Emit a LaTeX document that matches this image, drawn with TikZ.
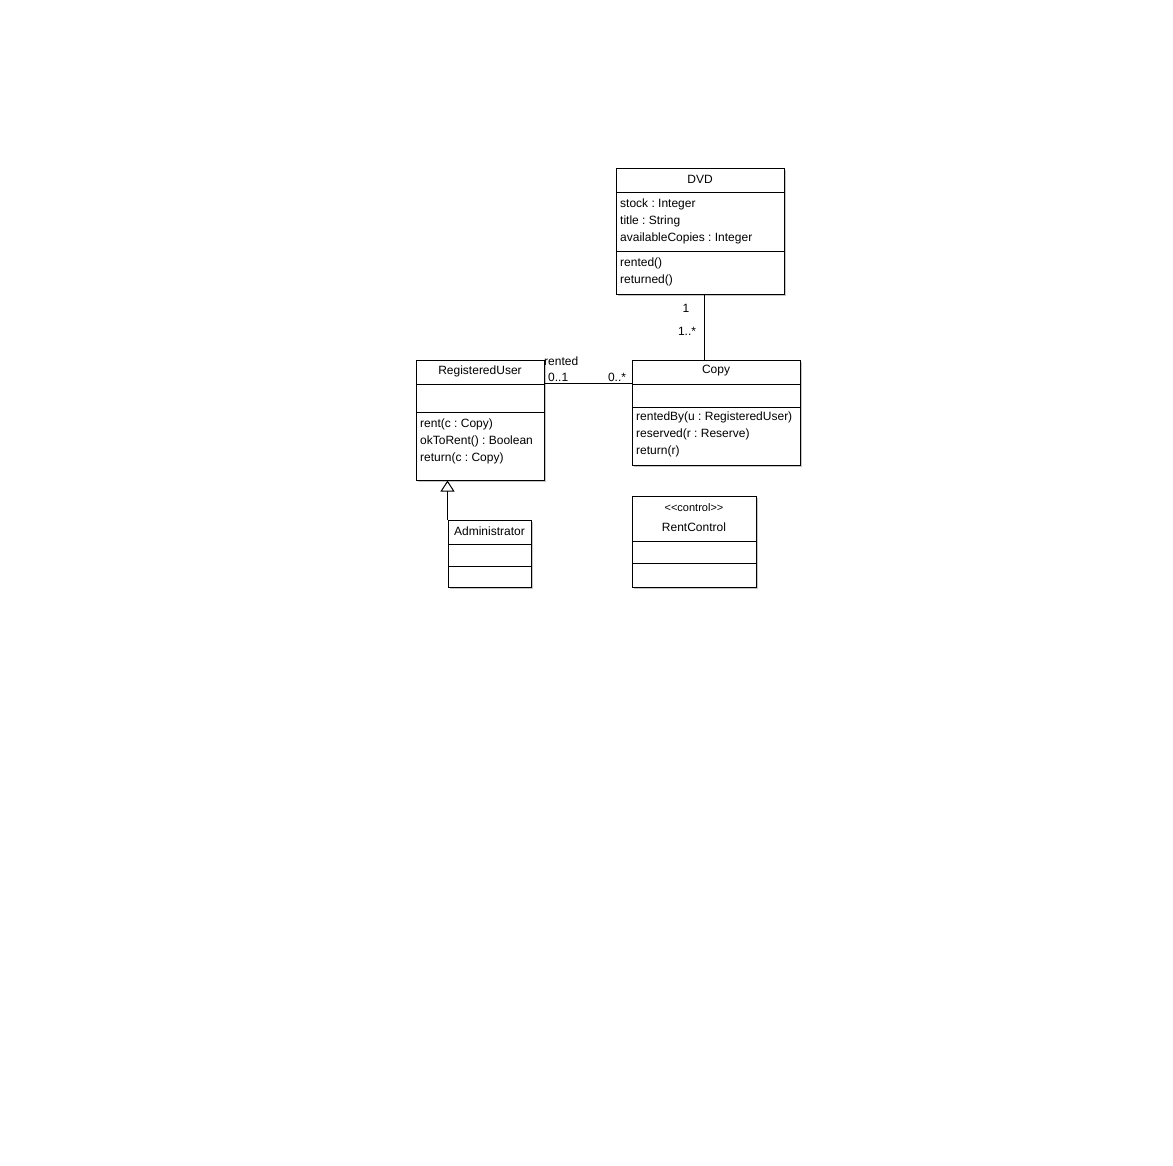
\documentclass[tikz,border=0pt]{standalone}
\usepackage{fontspec}
\setmainfont{Liberation Sans}
\frenchspacing
\usetikzlibrary{arrows.meta,calc}
\tikzset{
  x=1pt, y=-1pt,
  cls/.style={draw=black, line width=1pt, fill=white, inner sep=0pt, rectangle},
  shadowbox/.style={fill=black!22, draw=none},
  sep/.style={line width=1pt},
  ttl/.style={font=\fontsize{12}{14}\selectfont, inner sep=0pt, anchor=center},
  mem/.style={font=\fontsize{12}{14}\selectfont, inner sep=0pt, anchor=west},
  stereo/.style={font=\fontsize{11}{13}\selectfont, inner sep=0pt, anchor=center},
  lbl/.style={font=\fontsize{12}{14}\selectfont, inner sep=0pt},
  assoc/.style={line width=1pt},
  gen/.style={line width=1pt, -{Triangle[open, length=11pt, width=14pt, line width=1pt]}}
}
\begin{document}
\frenchspacing
\begin{tikzpicture}
\useasboundingbox[fill=white] (0,0) rectangle (1173,1165);
% shadows
\fill[shadowbox] (618,170) rectangle (786,296);
\fill[shadowbox] (634,362) rectangle (802,467);
\fill[shadowbox] (418,362) rectangle (546,482);
\fill[shadowbox] (450,522) rectangle (533,589);
\fill[shadowbox] (634,498) rectangle (758,589);
% DVD
\node[cls, minimum width=168pt, minimum height=126pt] (dvd) at (700,231) {};
\draw[sep] (616,192) -- (784,192);
\draw[sep] (616,251) -- (784,251);
\node[ttl] (dvdt) at (700,179.5) {DVD};
\node[mem] (dvda1) at (620,204) {stock : Integer};
\node[mem] (dvda2) at (620,221) {title : String};
\node[mem] (dvda3) at (620,238) {availableCopies : Integer};
\node[mem] (dvdm1) at (620,263) {rented()};
\node[mem] (dvdm2) at (620,280) {returned()};
% Copy
\node[cls, minimum width=168pt, minimum height=105pt] (copy) at (716,412.5) {};
\draw[sep] (632,384) -- (800,384);
\draw[sep] (632,407) -- (800,407);
\node[ttl] (copyt) at (716,371) {Copy};
\node[mem] (copym1) at (636,417) {rentedBy(u : RegisteredUser)};
\node[mem] (copym2) at (636,434) {reserved(r : Reserve)};
\node[mem] (copym3) at (636,451) {return(r)};
% RegisteredUser
\node[cls, minimum width=128pt, minimum height=120pt] (ru) at (480,420) {};
\draw[sep] (416,384) -- (544,384);
\draw[sep] (416,412) -- (544,412);
\node[ttl] (rut) at (480,371) {RegisteredUser};
\node[mem] (rum1) at (420,424) {rent(c : Copy)};
\node[mem] (rum2) at (420,441) {okToRent() : Boolean};
\node[mem] (rum3) at (420,458) {return(c : Copy)};
% Administrator
\node[cls, minimum width=83pt, minimum height=67pt] (adm) at (489.5,553.5) {};
\draw[sep] (448,544) -- (531,544);
\draw[sep] (448,566) -- (531,566);
\node[ttl] (admt) at (489.5,531) {Administrator};
% RentControl
\node[cls, minimum width=124pt, minimum height=91pt] (rc) at (694,541.5) {};
\draw[sep] (632,541) -- (756,541);
\draw[sep] (632,563) -- (756,563);
\node[stereo] (rcs) at (694,507.5) {<{}<control>{}>};
\node[ttl] (rct) at (694,527) {RentControl};
% connectors
\draw[assoc] ([xshift=4pt]dvd.south) -- ([xshift=-12pt]copy.north);
\draw[assoc] ([yshift=-24pt]ru.north east) -- ([yshift=-24pt]copy.north west);
\draw[gen] (adm.north west) -- (adm.north west |- ru.south);
% labels
\node[lbl] (m1) at (686,308) {1};
\node[lbl] (m2) at (687,331) {1..*};
\node[lbl, anchor=west] (rn) at (544,361) {rented};
\node[lbl, anchor=west] (m3) at (548,377) {0..1};
\node[lbl] (m4) at (617,377) {0..*};
\end{tikzpicture}
\end{document}
